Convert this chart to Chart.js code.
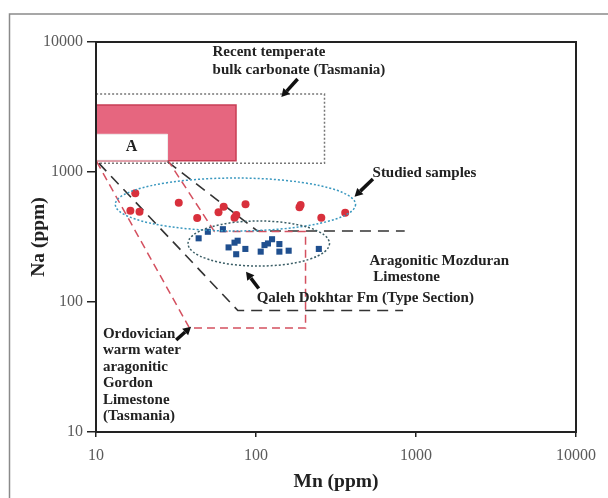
<!DOCTYPE html>
<html>
<head>
<meta charset="utf-8">
<script src="https://cdn.jsdelivr.net/npm/chart.js@4.4.1/dist/chart.umd.min.js"></script>
<style>
html, body { margin: 0; padding: 0; background: #fff; }
#wrap { width: 608px; height: 498px; position: relative; }
</style>
</head>
<body>
<div id="wrap"><canvas id="chart"></canvas></div>
<script>
// axis ticks
const mnTicks = [10, 100, 1000, 10000];
const naTicks = [10, 100, 1000, 10000];
const mnTickLabels = ['10', '100', '1000', '10000'];
const naTickLabels = ['10', '100', '1000', '10000'];

// studied samples (red circles)
const studiedMn = [17.6, 16.4, 18.7, 32.9, 42.9, 58.3, 62.8, 73.4, 75.3, 86.0, 187, 190, 256, 361];
const studiedNa = [686, 504, 494, 581, 443, 490, 541, 444, 467, 565, 535, 557, 444, 486];

// Qaleh Dokhtar Fm, type section (blue squares)
const qalehMn = [43.8, 50, 62.1, 67.4, 73.4, 76.8, 75.2, 85.8, 107, 113, 118.8, 126, 140, 140, 160, 247];
const qalehNa = [309, 347, 363, 263, 286, 296, 233, 256, 244, 274, 282, 304, 279, 244, 248, 256];

// reference fields, [Mn, Na] corners
const bulkBox = [[10, 1170], [268, 1170], [268, 3980], [10, 3980], [10, 1170]];
const pinkBox = [[10, 1220], [75, 1220], [75, 3275], [10, 3275], [10, 1220]];
const boxA = [[10, 1235], [28, 1235], [28, 1950], [10, 1950], [10, 1235]];
const gordonField = [[10.1, 1200], [38.4, 63], [204, 63], [204, 348], [55, 348], [28.5, 1200]];
const mozduranLower = [[10.4, 1170], [77, 86], [830, 86]];
const mozduranUpper = [[28, 1200], [102, 352], [850, 352]];

// dotted ellipses, Mn and Na extents
const studiedEllipse = { mn: [13.2, 419], na: [352, 899] };
const qalehEllipse = { mn: [37.6, 288], na: [189, 420] };

// arrows [Mn from, Na from, Mn to, Na to]
const arrows = [
    [182, 5190, 144, 3776],
    [538, 883, 413, 646],
    [104, 127, 86.6, 171],
    [31.7, 51, 39.3, 64.6]
];

const notes = [
    { lines: ['Recent temperate', 'bulk carbonate (Tasmania)'], mn: 53.5, na: 8375, lh: 18 },
    { lines: ['Studied samples'], mn: 535, na: 983, lh: 16.5 },
    { lines: ['Aragonitic Mozduran', ' Limestone'], mn: 512, na: 207, lh: 16 },
    { lines: ['Qaleh Dokhtar Fm (Type Section)'], mn: 101, na: 107, lh: 16.5 },
    { lines: ['Ordovician', 'warm water', 'aragonitic', 'Gordon', 'Limestone', '(Tasmania)'], mn: 11.05, na: 56.8, lh: 16.5 }
];

const serif = 'Liberation Serif';

function toXY(mn, na) {
    return mn.map((v, i) => ({ x: v, y: na[i] }));
}
function pairs(arr) {
    return arr.map(p => ({ x: p[0], y: p[1] }));
}

const decorPlugin = {
    id: 'decor',
    beforeDraw(chart) {
        const ctx = chart.ctx;
        ctx.save();
        ctx.fillStyle = '#fff';
        ctx.fillRect(0, 0, chart.width, chart.height);
        ctx.strokeStyle = '#8a8a8a';
        ctx.lineWidth = 1.5;
        ctx.beginPath();
        ctx.moveTo(9.5, chart.height);
        ctx.lineTo(9.5, 14);
        ctx.lineTo(chart.width, 14);
        ctx.stroke();
        ctx.restore();
    },
    afterDatasetsDraw(chart) {
        const ctx = chart.ctx;
        const xs = chart.scales.x, ys = chart.scales.y;
        ctx.save();

        // ellipses
        [[studiedEllipse, '#3a98bf'], [qalehEllipse, '#3b5e66']].forEach(([e, col]) => {
            const x1 = xs.getPixelForValue(e.mn[0]), x2 = xs.getPixelForValue(e.mn[1]);
            const y1 = ys.getPixelForValue(e.na[1]), y2 = ys.getPixelForValue(e.na[0]);
            ctx.beginPath();
            ctx.ellipse((x1 + x2) / 2, (y1 + y2) / 2, (x2 - x1) / 2, (y2 - y1) / 2, 0, 0, Math.PI * 2);
            ctx.setLineDash([2, 2]);
            ctx.lineWidth = 1.5;
            ctx.strokeStyle = col;
            ctx.stroke();
        });
        ctx.setLineDash([]);

        // arrows
        arrows.forEach(a => {
            const x0 = xs.getPixelForValue(a[0]), y0 = ys.getPixelForValue(a[1]);
            const x1 = xs.getPixelForValue(a[2]), y1 = ys.getPixelForValue(a[3]);
            const ang = Math.atan2(y1 - y0, x1 - x0);
            const hl = 8, hw = 4.5;
            const bx = x1 - Math.cos(ang) * hl, by = y1 - Math.sin(ang) * hl;
            ctx.strokeStyle = '#111';
            ctx.lineWidth = 3.5;
            ctx.beginPath();
            ctx.moveTo(x0, y0);
            ctx.lineTo(bx, by);
            ctx.stroke();
            ctx.fillStyle = '#111';
            ctx.beginPath();
            ctx.moveTo(x1, y1);
            ctx.lineTo(bx + Math.sin(ang) * hw, by - Math.cos(ang) * hw);
            ctx.lineTo(bx - Math.sin(ang) * hw, by + Math.cos(ang) * hw);
            ctx.closePath();
            ctx.fill();
        });

        // text notes
        ctx.fillStyle = '#222';
        ctx.font = 'bold 15px "' + serif + '"';
        ctx.textAlign = 'left';
        ctx.textBaseline = 'middle';
        notes.forEach(n => {
            const x = xs.getPixelForValue(n.mn), y = ys.getPixelForValue(n.na);
            n.lines.forEach((t, i) => ctx.fillText(t, x, y + i * n.lh));
        });

        ctx.font = 'bold 16px "' + serif + '"';
        ctx.textAlign = 'center';
        ctx.fillText('A', xs.getPixelForValue(16.7), ys.getPixelForValue(1560));
        ctx.restore();
    },
    afterDraw(chart) {
        const a = chart.chartArea, ctx = chart.ctx;
        ctx.save();
        ctx.strokeStyle = '#222';
        ctx.lineWidth = 2;
        ctx.strokeRect(a.left, a.top, a.right - a.left, a.bottom - a.top);
        ctx.restore();
    }
};

const data = {
    datasets: [
        {
            label: 'Studied samples',
            data: toXY(studiedMn, studiedNa),
            pointStyle: 'circle',
            pointRadius: 4,
            backgroundColor: '#d8303c',
            borderWidth: 0
        },
        {
            label: 'Qaleh Dokhtar Fm',
            data: toXY(qalehMn, qalehNa),
            pointStyle: 'rect',
            pointRadius: 4.3,
            backgroundColor: '#1f4f8f',
            borderWidth: 0
        },
        {
            label: 'Gordon Limestone',
            data: pairs(gordonField),
            showLine: true,
            pointRadius: 0,
            borderColor: '#d4505f',
            borderWidth: 1.5,
            borderDash: [8, 5]
        },
        {
            label: 'Mozduran lower',
            data: pairs(mozduranLower),
            showLine: true,
            pointRadius: 0,
            borderColor: '#333',
            borderWidth: 1.6,
            borderDash: [11, 7]
        },
        {
            label: 'Mozduran upper',
            data: pairs(mozduranUpper),
            showLine: true,
            pointRadius: 0,
            borderColor: '#333',
            borderWidth: 1.6,
            borderDash: [11, 7]
        },
        {
            label: 'Bulk carbonate',
            data: pairs(bulkBox),
            showLine: true,
            pointRadius: 0,
            borderColor: '#777',
            borderWidth: 1.5,
            borderDash: [2, 2]
        },
        {
            label: 'A',
            data: pairs(boxA),
            showLine: true,
            pointRadius: 0,
            borderColor: '#eee',
            borderWidth: 1,
            backgroundColor: '#fff',
            fill: 'shape'
        },
        {
            label: 'Pink field',
            data: pairs(pinkBox),
            showLine: true,
            pointRadius: 0,
            borderColor: '#c83e55',
            borderWidth: 1.5,
            backgroundColor: '#e6667f',
            fill: 'shape'
        }
    ]
};

const config = {
    type: 'scatter',
    data: data,
    plugins: [decorPlugin],
    options: {
        responsive: true,
        maintainAspectRatio: false,
        animation: false,
        layout: { padding: { top: 42, right: 32, left: 0, bottom: 0 } },
        plugins: { legend: { display: false }, tooltip: { enabled: false } },
        scales: {
            x: {
                type: 'logarithmic',
                min: 10,
                max: 10000,
                afterFit(s) { s.height = 66; },
                afterBuildTicks(s) { s.ticks = mnTicks.map(v => ({ value: v })); },
                ticks: {
                    callback: (v, i) => mnTickLabels[i],
                    font: { family: serif, size: 16 },
                    color: '#5a5a5a',
                    padding: 9,
                    autoSkip: false,
                    maxRotation: 0
                },
                grid: { drawOnChartArea: false, drawTicks: true, tickLength: 5, color: '#222', lineWidth: 1.5 },
                border: { display: true, color: '#222', width: 2 },
                title: {
                    display: true,
                    text: 'Mn (ppm)',
                    font: { family: serif, size: 19.5, weight: 'bold' },
                    color: '#222',
                    padding: { top: 0, bottom: 4.6 }
                }
            },
            y: {
                type: 'logarithmic',
                min: 10,
                max: 10000,
                afterFit(s) { s.width = 96; },
                afterBuildTicks(s) { s.ticks = naTicks.map(v => ({ value: v })); },
                ticks: {
                    callback: (v, i) => naTickLabels[i],
                    font: { family: serif, size: 16 },
                    color: '#5a5a5a',
                    padding: 4,
                    autoSkip: false
                },
                grid: { drawOnChartArea: false, drawTicks: true, tickLength: 9, color: '#222', lineWidth: 1.5 },
                border: { display: true, color: '#222', width: 2 },
                title: {
                    display: true,
                    text: 'Na (ppm)',
                    font: { family: serif, size: 19.5, weight: 'bold' },
                    color: '#222',
                    padding: { top: 27, bottom: 0 }
                }
            }
        }
    }
};

new Chart(document.getElementById('chart'), config);
</script>
</body>
</html>
